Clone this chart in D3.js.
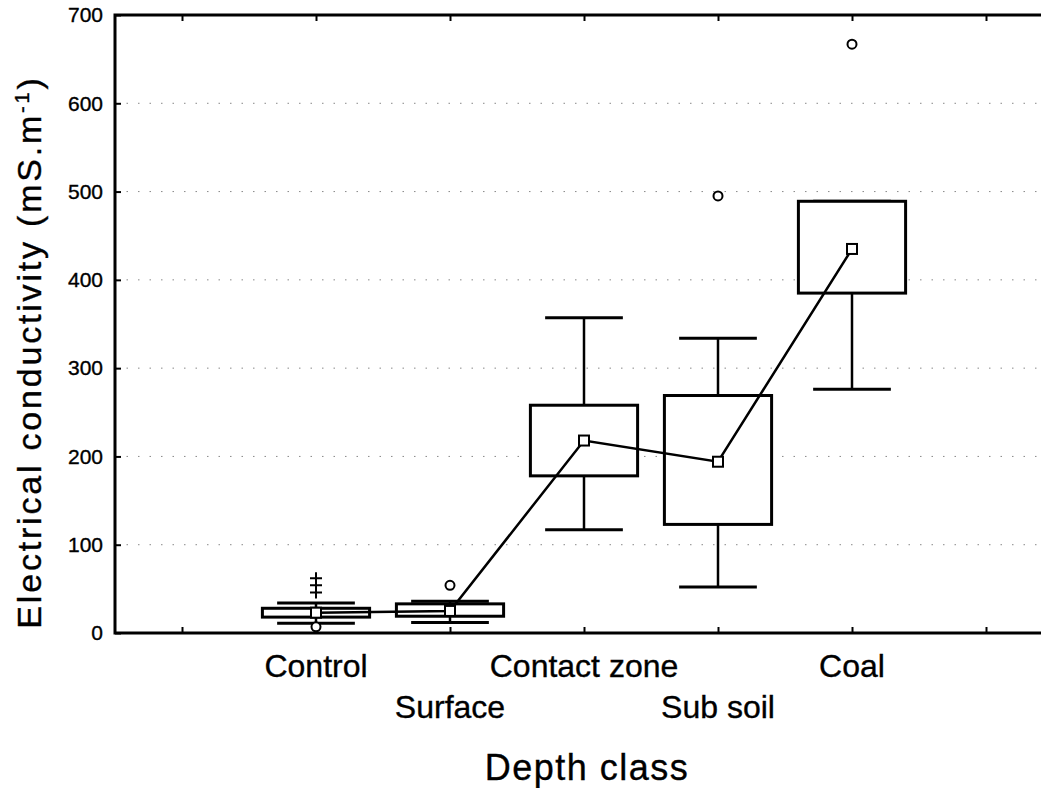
<!DOCTYPE html>
<html>
<head>
<meta charset="utf-8">
<script src="https://cdn.jsdelivr.net/npm/d3@7"></script>
<style>
  body { margin: 0; background: #fff; }
  svg { display: block; font-family: "Liberation Sans", Arial, sans-serif; }
  text { stroke: #000; stroke-width: 0.35px; }
</style>
</head>
<body>
<svg id="chart" width="1041" height="788"></svg>
<script>
// values
var categories = ["Control", "Surface", "Contact zone", "Sub soil", "Coal"];
var means = [23, 25, 218, 194, 435];
var q1 = [18, 19, 178, 123, 385];
var q3 = [28, 33, 258, 269, 489];
var whiskerLow = [11, 12, 117, 52, 276];
var whiskerHigh = [34, 36, 357, 334, 489];
var outlierCat = ["Control", "Surface", "Sub soil", "Coal"];
var outlierVal = [7, 54, 495, 667];
var extremeCat = ["Control", "Control", "Control"];
var extremeVal = [62, 54, 46];
var yTicks = [0, 100, 200, 300, 400, 500, 600, 700];
var gridTicks = [100, 200, 300, 400, 500, 600];

var svg = d3.select("#chart");
var plotLeft = 115, plotRight = 1053, plotTop = 15, plotBottom = 633;

var x = d3.scaleLinear().domain([-0.5, 6.5]).range([plotLeft, plotRight]);
var y = d3.scaleLinear().domain([0, 700]).range([plotBottom, plotTop]);
var step = x(1) - x(0);

function cx(name) { return x(categories.indexOf(name) + 1); }

// dotted grid
svg.append("g").selectAll("line")
    .data(gridTicks)
    .enter().append("line")
    .attr("x1", plotLeft).attr("x2", plotRight)
    .attr("y1", function(d) { return y(d); })
    .attr("y2", function(d) { return y(d); })
    .attr("stroke", "#888")
    .attr("stroke-width", 1)
    .attr("stroke-dasharray", "1.5,10");

// axes with inside ticks
var yAxis = svg.append("g")
    .attr("transform", "translate(" + plotLeft + ",0)")
    .call(d3.axisLeft(y).tickValues(yTicks).tickSize(-6).tickPadding(12));
yAxis.selectAll("text").style("font-size", "21px").attr("fill", "#000");

var xAxis = svg.append("g")
    .attr("transform", "translate(0," + plotBottom + ")")
    .call(d3.axisBottom(x).tickValues([0, 1, 2, 3, 4, 5, 6]).tickSize(-6).tickFormat(""));

var topAxis = svg.append("g")
    .attr("transform", "translate(0," + plotTop + ")")
    .call(d3.axisTop(x).tickValues([0, 1, 2, 3, 4, 5, 6]).tickSize(-6).tickFormat(""));

[yAxis, xAxis, topAxis].forEach(function(a) {
  a.select(".domain").remove();
  a.selectAll(".tick line").attr("stroke", "#000").attr("stroke-width", 2);
});

// frame
svg.append("rect")
    .attr("x", plotLeft).attr("y", plotTop)
    .attr("width", plotRight - plotLeft).attr("height", plotBottom - plotTop)
    .attr("fill", "none")
    .attr("stroke", "#000")
    .attr("stroke-width", 3);

// whiskers and boxes
var boxes = svg.append("g").selectAll("g")
    .data(categories)
    .enter().append("g");

boxes.append("line")
    .attr("x1", function(d) { return cx(d); })
    .attr("x2", function(d) { return cx(d); })
    .attr("y1", function(d, i) { return y(whiskerLow[i]); })
    .attr("y2", function(d, i) { return y(whiskerHigh[i]); })
    .attr("stroke", "#000").attr("stroke-width", 2.5);

[whiskerLow, whiskerHigh].forEach(function(arr) {
  boxes.append("line")
      .attr("x1", function(d) { return cx(d) - step * 0.29; })
      .attr("x2", function(d) { return cx(d) + step * 0.29; })
      .attr("y1", function(d, i) { return y(arr[i]); })
      .attr("y2", function(d, i) { return y(arr[i]); })
      .attr("stroke", "#000").attr("stroke-width", 3);
});

boxes.append("rect")
    .attr("x", function(d) { return cx(d) - step * 0.4; })
    .attr("width", step * 0.8)
    .attr("y", function(d, i) { return y(q3[i]); })
    .attr("height", function(d, i) { return y(q1[i]) - y(q3[i]); })
    .attr("fill", "#fff")
    .attr("stroke", "#000").attr("stroke-width", 3);

// mean line
var line = d3.line()
    .x(function(d, i) { return cx(categories[i]); })
    .y(function(d) { return y(d); });

svg.append("path")
    .datum(means)
    .attr("d", line)
    .attr("fill", "none")
    .attr("stroke", "#000")
    .attr("stroke-width", 2.5);

svg.append("g").selectAll("rect")
    .data(means)
    .enter().append("rect")
    .attr("x", function(d, i) { return cx(categories[i]) - 5; })
    .attr("y", function(d) { return y(d) - 5; })
    .attr("width", 10).attr("height", 10)
    .attr("fill", "#fff")
    .attr("stroke", "#000").attr("stroke-width", 2);

// outliers
svg.append("g").selectAll("circle")
    .data(outlierVal)
    .enter().append("circle")
    .attr("cx", function(d, i) { return cx(outlierCat[i]); })
    .attr("cy", function(d) { return y(d); })
    .attr("r", 4.5)
    .attr("fill", "#fff")
    .attr("stroke", "#000").attr("stroke-width", 2);

// extremes
svg.append("g").selectAll("path")
    .data(extremeVal)
    .enter().append("path")
    .attr("d", function(d, i) {
      var px = cx(extremeCat[i]), py = y(d);
      return "M" + (px - 6) + "," + py + "H" + (px + 6) + "M" + px + "," + (py - 6) + "V" + (py + 6);
    })
    .attr("stroke", "#000").attr("stroke-width", 2);

// category labels, staggered
svg.append("g").selectAll("text")
    .data(categories)
    .enter().append("text")
    .attr("x", function(d) { return cx(d); })
    .attr("y", function(d, i) { return i % 2 === 0 ? 677 : 718; })
    .attr("text-anchor", "middle")
    .style("font-size", "32px")
    .text(function(d) { return d; });

// axis titles
svg.append("text")
    .attr("x", 587).attr("y", 780)
    .attr("text-anchor", "middle")
    .style("font-size", "36px")
    .style("letter-spacing", "1.5px")
    .text("Depth class");

var yt = svg.append("text")
    .attr("transform", "translate(41,352) rotate(-90)")
    .attr("text-anchor", "middle")
    .style("font-size", "34px")
    .style("letter-spacing", "2.8px");
yt.append("tspan").text("Electrical conductivity (mS.m");
yt.append("tspan").attr("dy", -12).style("font-size", "20px").text("-1");
yt.append("tspan").attr("dy", 12).text(")");
</script>
</body>
</html>
